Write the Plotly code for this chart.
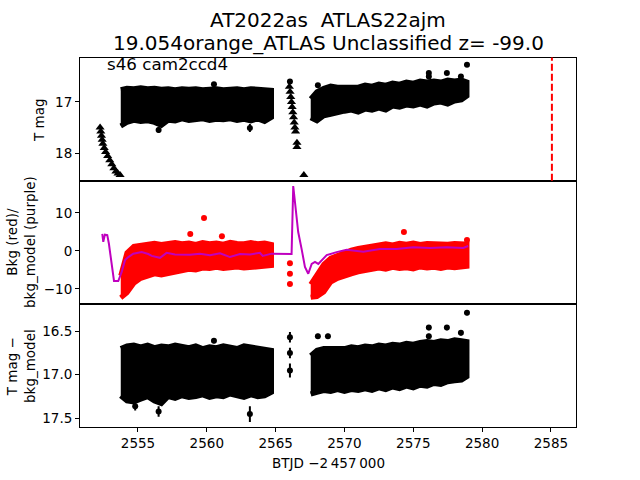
import plotly.graph_objects as go

FONT = "DejaVu Sans"

# ---- time grids for the two dense stretches of the light curve (BTJD - 2457000)
t_seg1 = [2553.75, 2554.2, 2554.7, 2555.2, 2555.7, 2556.2, 2556.7, 2557.2, 2557.7, 2558.2,
          2558.7, 2559.2, 2559.7, 2560.2, 2560.7, 2561.2, 2561.7, 2562.2, 2562.7, 2563.2,
          2563.7, 2564.2, 2564.7]
t_seg2 = [2567.55, 2568.0, 2568.5, 2569.0, 2569.5, 2570.0, 2570.5, 2571.0, 2571.5, 2572.0,
          2572.5, 2573.0, 2573.5, 2574.0, 2574.5, 2575.0, 2575.5, 2576.0, 2576.5, 2577.0,
          2577.5, 2578.0, 2578.5, 2578.9]

# ---- panel 1: T mag envelope (bright edge / faint edge)
tmag1_top = [16.76, 16.73, 16.74, 16.72, 16.74, 16.73, 16.75, 16.74, 16.76, 16.74, 16.75, 16.74,
             16.76, 16.75, 16.74, 16.76, 16.75, 16.74, 16.76, 16.74, 16.75, 16.76, 16.77]
tmag1_bot = [17.47, 17.40, 17.36, 17.38, 17.37, 17.40, 17.46, 17.36, 17.37, 17.33, 17.36, 17.35,
             17.33, 17.36, 17.34, 17.35, 17.33, 17.36, 17.34, 17.37, 17.33, 17.38, 17.30]
tmag2_top = [16.94, 16.80, 16.73, 16.69, 16.71, 16.71, 16.69, 16.71, 16.67, 16.69, 16.65, 16.67,
             16.63, 16.65, 16.61, 16.63, 16.59, 16.61, 16.59, 16.61, 16.57, 16.59, 16.57, 16.61]
tmag2_bot = [17.31, 17.37, 17.27, 17.24, 17.20, 17.18, 17.16, 17.20, 17.14, 17.16, 17.12, 17.16,
             17.08, 17.10, 17.06, 17.08, 17.04, 17.08, 17.02, 17.00, 17.04, 16.98, 16.96, 16.88]

tmag_pts_t = [2560.52, 2563.13, 2556.5, 2566.04, 2568.07, 2576.13, 2576.13, 2577.44, 2578.46, 2578.9]
tmag_pts = [16.65, 17.51, 17.55, 16.60, 16.67, 16.43, 16.50, 16.43, 16.50, 16.27]
tmag_pts_err = [0.03, 0.08, 0.06, 0.03, 0.03, 0.03, 0.03, 0.03, 0.03, 0.03]

# upper limits (triangles)
lim_t = [2552.25, 2552.3, 2552.35, 2552.4, 2552.45, 2552.55, 2552.65, 2552.8, 2552.95, 2553.1,
         2553.25, 2553.4, 2553.55, 2553.7,
         2566.0, 2566.05, 2566.1, 2566.15, 2566.2, 2566.25, 2566.3, 2566.35, 2566.4, 2566.45,
         2566.55, 2566.55, 2567.05]
lim_mag = [17.50, 17.58, 17.66, 17.74, 17.82, 17.90, 17.98, 18.06, 18.14, 18.22,
           18.30, 18.36, 18.40, 18.43,
           16.70, 16.80, 16.90, 17.00, 17.10, 17.20, 17.30, 17.40, 17.50, 17.58,
           17.80, 17.88, 18.43]

# ---- panel 2: background (red) and background model (purple)
bkg1_top = [-6.5, -0.5, 1.2, 1.4, 1.7, 2.0, 1.7, 1.9, 2.2, 1.9, 2.1, 1.7,
            2.2, 1.9, 2.1, 1.8, 2.3, 2.0, 1.9, 2.2, 1.9, 2.1, 1.7]
bkg1_bot = [-12.3, -11.0, -8.5, -7.2, -6.5, -6.0, -6.3, -5.8, -5.5, -5.2, -4.8, -5.0,
            -4.5, -4.6, -4.3, -4.6, -4.4, -4.2, -4.5, -4.2, -4.3, -4.0, -3.8]
bkg2_top = [-8.8, -6.1, -3.5, -1.9, -1.1, -0.4, 0.2, 0.7, 1.1, 1.3, 1.6, 1.9,
            1.6, 2.0, 1.8, 2.1, 1.7, 2.0, 1.9, 2.1, 1.8, 2.0, 1.9, 1.8]
bkg2_bot = [-12.2, -12.0, -10.8, -8.2, -7.2, -6.5, -6.0, -5.5, -5.0, -4.8, -4.5, -4.8,
            -4.3, -4.6, -4.4, -4.7, -4.2, -4.5, -4.3, -4.6, -4.2, -4.4, -4.3, -4.0]
bkg_pts_t = [2559.8, 2558.8, 2561.1, 2574.32, 2578.9, 2566.04, 2566.04, 2566.04]
bkg_pts = [8.7, 4.5, 3.9, 5.0, 2.9, -3.2, -6.0, -8.7]

model_t = [2552.41, 2552.48, 2552.60, 2552.77, 2552.89, 2553.09, 2553.26, 2553.57, 2553.82, 2554.06,
           2554.30, 2554.66, 2555.27, 2555.75, 2556.0, 2556.60, 2557.08, 2557.69, 2558.78, 2559.50,
           2560.23, 2560.96, 2561.68, 2562.41, 2563.14, 2563.86, 2564.06, 2564.71, 2566.16, 2566.28,
           2566.40, 2566.53, 2566.64, 2566.89, 2567.13, 2567.37, 2567.62, 2567.86, 2568.10, 2568.71,
           2569.43, 2570.16, 2571.37, 2572.58, 2573.79, 2575.0, 2576.21, 2577.42, 2578.63, 2578.99]
model_val = [4.5, 2.4, 4.3, 4.2, 1.9, -3.7, -7.9, -7.9, -5.5, -2.4,
             -1.6, -0.7, -0.3, -0.8, -1.3, -1.8, -0.5, -0.9, -1.0, -0.7,
             -1.1, -0.6, -1.6, -0.8, -0.9, -0.5, -1.3, -0.7, -0.8, 17.1,
             12.9, 8.4, 5.0, 0.5, -4.2, -6.0, -3.4, -2.9, -3.4, -1.1,
             -0.3, 0.3, -0.2, 0.5, 0.5, 1.0, 0.8, 1.0, 0.8, 1.3]

# ---- panel 3: T mag - bkg_model
res1_top = [16.70, 16.67, 16.66, 16.68, 16.66, 16.69, 16.67, 16.68, 16.66, 16.68, 16.69, 16.67,
            16.70, 16.68, 16.69, 16.67, 16.68, 16.70, 16.67, 16.68, 16.69, 16.71, 16.72]
res1_bot = [17.24, 17.30, 17.31, 17.28, 17.25, 17.30, 17.33, 17.25, 17.27, 17.24, 17.26, 17.25,
            17.23, 17.26, 17.24, 17.25, 17.22, 17.24, 17.26, 17.23, 17.25, 17.24, 17.20]
res2_top = [16.78, 16.72, 16.70, 16.70, 16.69, 16.70, 16.68, 16.69, 16.67, 16.68, 16.66, 16.67,
            16.65, 16.66, 16.64, 16.65, 16.63, 16.62, 16.63, 16.61, 16.62, 16.60, 16.61, 16.62]
res2_bot = [17.22, 17.20, 17.18, 17.19, 17.17, 17.19, 17.17, 17.18, 17.16, 17.18, 17.15, 17.17,
            17.14, 17.16, 17.13, 17.15, 17.12, 17.13, 17.10, 17.11, 17.08, 17.07, 17.06, 17.02]
res_pts_t = [2554.8, 2556.5, 2560.52, 2563.13, 2566.04, 2566.04, 2566.04, 2568.07, 2568.8,
             2576.13, 2576.13, 2577.44, 2578.46, 2578.9]
res_pts = [17.36, 17.42, 16.61, 17.45, 16.57, 16.75, 16.95, 16.56, 16.56,
           16.46, 16.56, 16.46, 16.52, 16.29]
res_pts_err = [0.05, 0.06, 0.03, 0.09, 0.06, 0.06, 0.08, 0.03, 0.03,
               0.03, 0.03, 0.03, 0.03, 0.03]

t_marker = 2585.07

fig = go.Figure()


def band(t, top, bot, color, xa, ya):
    fig.add_trace(go.Scatter(x=t + t[::-1], y=top + bot[::-1], mode="lines", fill="toself",
                             fillcolor=color, line=dict(color=color, width=5),
                             xaxis=xa, yaxis=ya, showlegend=False, hoverinfo="skip"))


band(t_seg1, tmag1_top, tmag1_bot, "black", "x", "y")
band(t_seg2, tmag2_top, tmag2_bot, "black", "x", "y")
fig.add_trace(go.Scatter(x=tmag_pts_t, y=tmag_pts, mode="markers",
                         marker=dict(color="black", size=6),
                         error_y=dict(array=tmag_pts_err, color="black", thickness=2, width=0),
                         xaxis="x", yaxis="y", showlegend=False))
fig.add_trace(go.Scatter(x=lim_t, y=lim_mag, mode="markers",
                         marker=dict(color="black", size=8, symbol="triangle-up"),
                         xaxis="x", yaxis="y", showlegend=False))

band(t_seg1, bkg1_top, bkg1_bot, "#ff0000", "x2", "y2")
band(t_seg2, bkg2_top, bkg2_bot, "#ff0000", "x2", "y2")
fig.add_trace(go.Scatter(x=bkg_pts_t, y=bkg_pts, mode="markers",
                         marker=dict(color="#ff0000", size=6),
                         xaxis="x2", yaxis="y2", showlegend=False))
fig.add_trace(go.Scatter(x=model_t, y=model_val, mode="lines",
                         line=dict(color="#bf00bf", width=2),
                         xaxis="x2", yaxis="y2", showlegend=False))

band(t_seg1, res1_top, res1_bot, "black", "x3", "y3")
band(t_seg2, res2_top, res2_bot, "black", "x3", "y3")
fig.add_trace(go.Scatter(x=res_pts_t, y=res_pts, mode="markers",
                         marker=dict(color="black", size=6),
                         error_y=dict(array=res_pts_err, color="black", thickness=2, width=0),
                         xaxis="x3", yaxis="y3", showlegend=False))

fig.add_shape(type="line", x0=t_marker, x1=t_marker, y0=0, y1=1, xref="x", yref="y domain",
              line=dict(color="#ff0000", width=2, dash="7px,3px"))

xrange = [2550.79, 2586.82]
frame = dict(showline=True, mirror=True, linecolor="black", linewidth=1,
             showgrid=False, zeroline=False, automargin=False)
tickfont = dict(family=FONT, size=13.5, color="black")

fig.update_layout(
    width=640, height=480, autosize=False,
    margin=dict(l=0, r=0, t=0, b=0),
    paper_bgcolor="white", plot_bgcolor="white",
    font=dict(family=FONT, color="black"),
    xaxis=dict(domain=[0.125, 0.9], anchor="y", range=xrange, showticklabels=False,
               ticks="", **frame),
    xaxis2=dict(domain=[0.125, 0.9], anchor="y2", range=xrange, matches="x",
                showticklabels=False, ticks="", **frame),
    xaxis3=dict(domain=[0.125, 0.9], anchor="y3", range=xrange, matches="x",
                tickvals=[2555, 2560, 2565, 2570, 2575, 2580, 2585],
                ticks="outside", ticklen=4, tickwidth=1, tickcolor="black",
                tickfont=tickfont, **frame),
    yaxis=dict(domain=[0.6233, 0.88], anchor="x", range=[18.545, 16.13],
               tickvals=[17, 18], ticks="outside", ticklen=4, tickwidth=1,
               tickcolor="black", tickfont=tickfont, **frame),
    yaxis2=dict(domain=[0.3667, 0.6233], anchor="x2", range=[-13.95, 18.47],
                tickvals=[-10, 0, 10], ticks="outside", ticklen=4, tickwidth=1,
                tickcolor="black", tickfont=tickfont, **frame),
    yaxis3=dict(domain=[0.11, 0.3667], anchor="x3", range=[17.6, 16.19],
                tickvals=[16.5, 17.0, 17.5], tickformat=".1f", ticks="outside", ticklen=4,
                tickwidth=1, tickcolor="black", tickfont=tickfont, **frame),
)

lab = dict(family=FONT, size=13.5, color="black")
title_font = dict(family=FONT, size=20, color="black")
ann = [
    dict(text="AT2022as \u00a0ATLAS22ajm", x=328 / 640, y=1 - 20 / 480, font=title_font),
    dict(text="19.054orange_ATLAS Unclassified z= -99.0", x=328 / 640, y=1 - 43 / 480,
         font=title_font),
    dict(text="s46 cam2ccd4", x=105 / 640, y=1 - 64 / 480, xanchor="left",
         font=dict(family=FONT, size=16.7, color="black")),
    dict(text="T mag", x=39 / 640, y=1 - 120 / 480, textangle=-90, font=lab),
    dict(text="Bkg (red)/<br>bkg_model (purple)", x=21 / 640, y=1 - 242 / 480,
         textangle=-90, font=lab),
    dict(text="T mag \u2212<br>bkg_model", x=21 / 640, y=1 - 366 / 480,
         textangle=-90, font=lab),
    dict(text="BTJD \u22122\u2009457\u2009000", x=328 / 640, y=1 - 463 / 480, font=lab),
]
for a in ann:
    a.setdefault("xanchor", "center")
    fig.add_annotation(xref="paper", yref="paper", showarrow=False, yanchor="middle", **a)

# the page body has a default 8px margin; drop it so the figure sits at 0,0
fig.write_html("out.html", config={"displayModeBar": False},
               post_script="document.body.style.margin='0';")
